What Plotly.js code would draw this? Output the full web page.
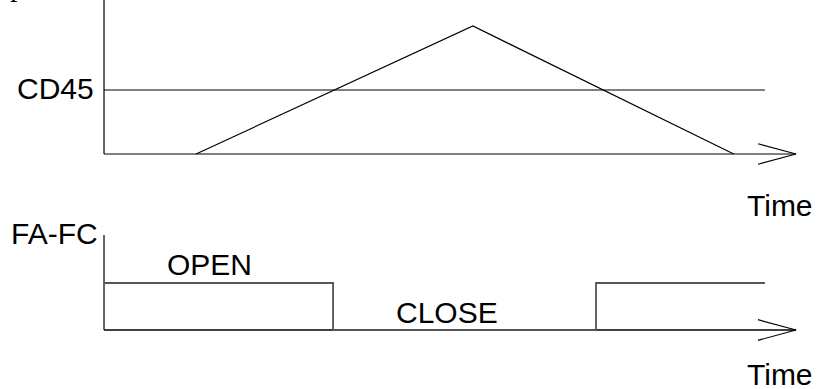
<!DOCTYPE html>
<html>
<head>
<meta charset="utf-8">
<script src="https://cdn.plot.ly/plotly-3.0.1.min.js"></script>
<style>
  html, body { margin: 0; padding: 0; background: #fff; }
  #chart { width: 817px; height: 389px; }
</style>
</head>
<body>
<div id="chart"></div>
<script>
// time runs 0..10 (arrow tip)
const axisEnd = 10;
const cd45Time = [0, 9.55];
const cd45Level = [1, 1];
const rampTime = [1.33, 5.33, 9.10];
const rampValue = [0, 2, 0];
const valveTime = [0, 3.31, 3.31, 7.11, 7.11, 9.55];
const valveState = [1, 1, 0, 0, 1, 1];
const topAxisMax = 2.41;
const bottomAxisMax = 2.02;

const panelLabels = ["CD45", "FA-FC"];
const stateLabels = ["OPEN", "CLOSE"];
const stateTime = [1.52, 4.96];
const stateLevel = [1.35, 0.34];
const timeLabel = "Time";

const font = "Liberation Sans, Arial, sans-serif";
const ink = "#000";

function line(x, y, yaxis, color, width) {
  return {
    x: x, y: y, xaxis: "x", yaxis: yaxis,
    type: "scatter", mode: "lines",
    line: { color: color || ink, width: width || 1.2 },
    hoverinfo: "skip", showlegend: false
  };
}

// open arrow head at the end of a time axis
function arrowHead(yaxis, spread) {
  const back = axisEnd - 0.55;
  return line([back, axisEnd, back], [spread, 0, -spread], yaxis);
}

const traces = [
  // top panel
  line([0, 0], [topAxisMax, 0], "y"),
  line([0, axisEnd], [0, 0], "y"),
  arrowHead("y", 0.16),
  line(cd45Time, cd45Level, "y"),
  line(rampTime, rampValue, "y"),
  // bottom panel
  line([0, 0], [bottomAxisMax, 0], "y2"),
  line([0, axisEnd], [0, 0], "y2", ink, 1.5),
  arrowHead("y2", 0.22),
  line(valveTime, valveState, "y2", "#555", 1.8)
];

function label(text, x, y, yref, xanchor) {
  return {
    text: text, x: x, y: y, xref: "x", yref: yref,
    xanchor: xanchor || "center", yanchor: "middle", yshift: 2,
    showarrow: false, font: { family: font, size: 30, color: ink }
  };
}

const annotations = [
  label(panelLabels[0], -0.12, 1, "y", "right"),
  label(panelLabels[1], -0.06, 2.02, "y2", "right"),
  label(stateLabels[0], stateTime[0], stateLevel[0], "y2"),
  label(stateLabels[1], stateTime[1], stateLevel[1], "y2"),
  label(timeLabel, 9.77, -0.84, "y"),
  label(timeLabel, 9.77, -0.98, "y2"),
  // cut-off glyph at the very top-left
  {
    text: "p", xref: "paper", yref: "paper", x: 0.021, y: 1,
    xanchor: "center", yanchor: "bottom", yshift: -4,
    showarrow: false, font: { family: "Liberation Serif, serif", size: 30, color: ink }
  }
];

const hidden = { visible: false, fixedrange: true };

Plotly.newPlot("chart", traces, {
  width: 817,
  height: 389,
  margin: { l: 0, r: 0, t: 0, b: 0 },
  paper_bgcolor: "#fff",
  plot_bgcolor: "#fff",
  xaxis: Object.assign({ range: [-1.503, 10.303], anchor: "y2" }, hidden),
  yaxis: Object.assign({ range: [-1.1875, 2.40625], domain: [0.4087, 1] }, hidden),
  yaxis2: Object.assign({ range: [-1.2553, 2.1277], domain: [0, 0.4087] }, hidden),
  annotations: annotations
}, { staticPlot: true });
</script>
</body>
</html>
